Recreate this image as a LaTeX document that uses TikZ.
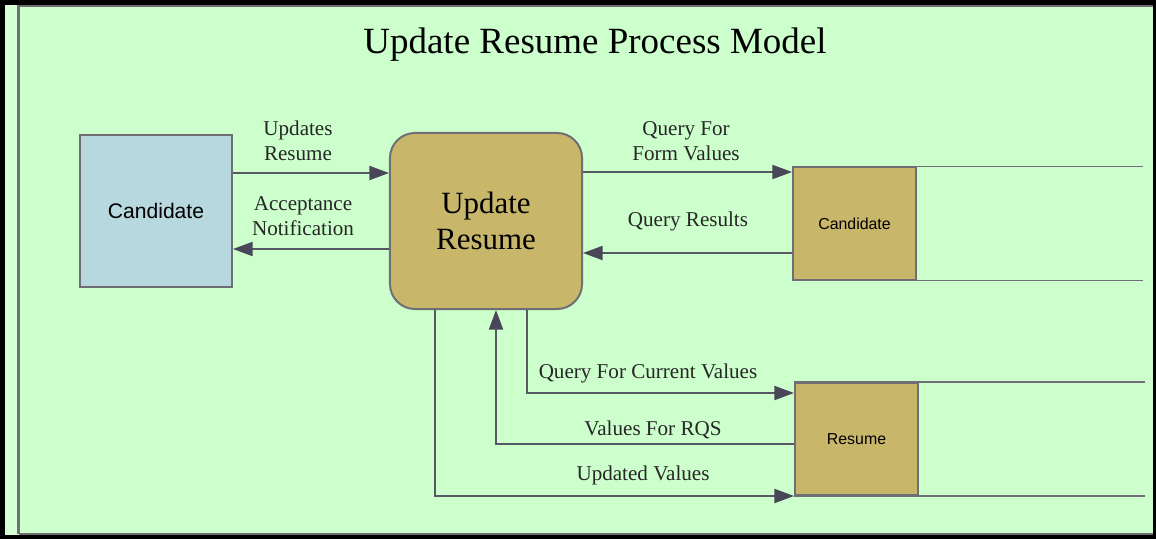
\documentclass[tikz,border=0pt]{standalone}
\usepackage{fontspec}
\setmainfont{Liberation Serif}
\newfontfamily\arialfont{Liberation Sans}
\usepackage{xcolor}
\usetikzlibrary{arrows.meta,calc}

\definecolor{panelgreen}{RGB}{204,255,204}
\definecolor{stripgreen}{RGB}{214,255,214}
\definecolor{entityblue}{RGB}{184,216,224}
\definecolor{processtan}{RGB}{200,182,106}
\definecolor{edgegray}{RGB}{110,110,116}
\definecolor{flowgray}{RGB}{88,88,100}
\definecolor{tipgray}{RGB}{72,70,88}

\begin{document}
\begin{tikzpicture}[
    x=0.025cm, y=-0.025cm,
    % Define styles
    entity/.style={rectangle, draw=edgegray, line width=1.4pt, fill=entityblue, minimum width=3.8cm, minimum height=3.8cm, inner sep=0pt, font=\arialfont\fontsize{15}{18}\selectfont},
    process/.style={rectangle, rounded corners=0.625cm, draw=edgegray, line width=1.4pt, fill=processtan, minimum width=4.8cm, minimum height=4.4cm, inner sep=0pt, align=center, font=\fontsize{22}{26}\selectfont},
    store/.style={rectangle, draw=edgegray, line width=1.4pt, fill=processtan, minimum width=3.075cm, minimum height=2.8cm, inner sep=0pt, font=\arialfont\fontsize{11.3}{13}\selectfont},
    storeline/.style={edgegray, line width=1.4pt},
    arrow/.style={-{Triangle[length=14pt,width=10pt,color=tipgray]}, flowgray, line width=1.4pt},
    flowlabel/.style={align=center, inner sep=0pt, font=\fontsize{15}{17.8}\selectfont, text=black!85}
]
\useasboundingbox (0,0) rectangle (1156,539);

% Frame
\fill[black] (0,0) rectangle (1156,539);
\fill[stripgreen] (5,5) rectangle (1153,535);
\fill[panelgreen] (18,6) rectangle (1153,534);
\draw[edgegray, line width=1.6pt] (18.5,534) -- (18.5,6) -- (1153,6);
\draw[edgegray, line width=1pt] (18.5,534) -- (1153,534);

% Title
\node[font=\fontsize{26.3}{30}\selectfont] (title) at (595,45) {Update Resume Process Model};

% Main nodes
\node[entity] (cand) at (156,211) {Candidate};
\node[process] (upd) at (486,221) {Update\\Resume};

% Data stores
\node[store] (cstore) at (854.5,223.5) {Candidate};
\node[store] (rstore) at (856.5,439) {Resume};
\draw[storeline] (cstore.north west) -- ++(351,0);
\draw[storeline] (cstore.south west) -- ++(351,0);
\draw[storeline] (rstore.north west) -- ++(351,0);
\draw[storeline] (rstore.south west) -- ++(351,0);

% Candidate <-> Update Resume
\draw[arrow] ($(cand.east)+(0,-38)$) -- ($(upd.west)+(0,-48)$);
\draw[arrow] ($(upd.west)+(0,28)$) -- ($(cand.east)+(0,38)$);

% Update Resume <-> Candidate store
\draw[arrow] ($(upd.east)+(0,-49)$) -- ($(cstore.west)+(0,-51.5)$);
\draw[arrow] ($(cstore.west)+(0,29.5)$) -- ($(upd.east)+(0,32)$);

% Update Resume <-> Resume store
\draw[arrow] ($(upd.south)+(41,0)$) |- ($(rstore.west)+(0,-46)$);
\draw[arrow] ($(rstore.west)+(0,5)$) -| ($(upd.south)+(10,0)$);
\draw[arrow] ($(upd.south)+(-51,0)$) |- ($(rstore.west)+(0,57)$);

% Labels
\node[flowlabel] (lblupdates) at (298,141) {Updates\\Resume};
\node[flowlabel] (lblaccept) at (303,216) {Acceptance\\Notification};
\node[flowlabel] (lblform) at (686,141) {Query For\\Form Values};
\node[flowlabel] (lblresults) at (688,221) {Query Results};
\node[flowlabel] (lblcurrent) at (648,373) {Query For Current Values};
\node[flowlabel] (lblrqs) at (653,430) {Values For RQS};
\node[flowlabel] (lblupdated) at (643,475) {Updated Values};

\end{tikzpicture}
\end{document}
